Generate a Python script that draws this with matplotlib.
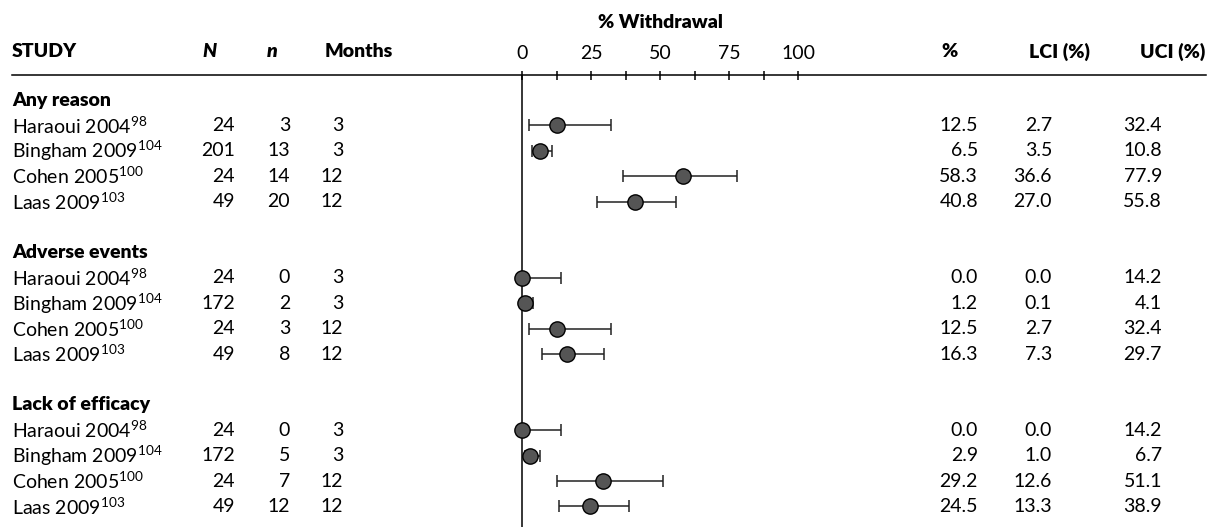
import numpy as np
import matplotlib
matplotlib.use("Agg")
from matplotlib import pyplot as plt

plt.rcParams['font.family'] = ['Lato', 'DejaVu Sans']

groups = ['Any reason', 'Adverse events', 'Lack of efficacy']
studies = ['Haraoui 2004', 'Bingham 2009', 'Cohen 2005', 'Laas 2009']
refs = ['98', '104', '100', '103']

big_n = [[24, 201, 24, 49], [24, 172, 24, 49], [24, 172, 24, 49]]
small_n = [[3, 13, 14, 20], [0, 2, 3, 8], [0, 5, 7, 12]]
months = [[3, 3, 12, 12], [3, 3, 12, 12], [3, 3, 12, 12]]
pct = [[12.5, 6.5, 58.3, 40.8], [0.0, 1.2, 12.5, 16.3], [0.0, 2.9, 29.2, 24.5]]
lci = [[2.7, 3.5, 36.6, 27.0], [0.0, 0.1, 2.7, 7.3], [0.0, 1.0, 12.6, 13.3]]
uci = [[32.4, 10.8, 77.9, 55.8], [14.2, 4.1, 32.4, 29.7], [14.2, 6.7, 51.1, 38.9]]

ticks = np.arange(0, 101, 12.5)
tick_labels = ['0', '', '25', '', '50', '', '75', '', '100']

W, H = 1215, 527
fig = plt.figure(figsize=(W / 100, H / 100), dpi=100)
ax = fig.add_axes([0, 0, 1, 1])
ax.set_axis_off()

# x: percent scale, 0 -> 522px, 100 -> 798px ; y: row index, row 0 at 100px, 25.4px per row
x0, x100 = 522, 798
scale = (x100 - x0) / 100
ax.set_xlim(-x0 / scale, (W - x0) / scale)
r0, dr = 100, 25.4
ax.set_ylim((H - r0) / dr, -r0 / dr)

fs = 14
bw = 'heavy'
lw = 1.1
ta = ax.get_yaxis_transform()  # x in axes fraction, y in rows


def fx(px):
    return px / W


# header
ax.text(fx(12), -1.9, 'STUDY', transform=ta, ha='left', va='center', fontsize=fs, fontweight=bw)
ax.text(fx(217), -1.9, 'N', transform=ta, ha='right', va='center', fontsize=fs, fontweight=bw, style='italic')
ax.text(fx(278), -1.9, 'n', transform=ta, ha='right', va='center', fontsize=fs, fontweight=bw, style='italic')
ax.text(fx(325), -1.9, 'Months', transform=ta, ha='left', va='center', fontsize=fs, fontweight=bw)
ax.text(fx(958), -1.9, '%', transform=ta, ha='right', va='center', fontsize=fs, fontweight=bw)
ax.text(fx(1090), -1.9, 'LCI (%)', transform=ta, ha='right', va='center', fontsize=fs, fontweight=bw)
ax.text(fx(1205), -1.9, 'UCI (%)', transform=ta, ha='right', va='center', fontsize=fs, fontweight=bw)
ax.text(50, -3.07, '% Withdrawal', ha='center', va='center', fontsize=fs, fontweight=bw)

# axis line, ticks, reference line
ax.axhline(-1, xmin=fx(12), xmax=fx(1206), color='black', lw=lw)
ax.vlines(ticks, -1.16, -0.8, color='black', lw=lw)
for t, lab in zip(ticks, tick_labels):
    ax.text(t, -1.85, lab, ha='center', va='center', fontsize=fs)
ax.vlines(0, -1, (H - r0) / dr, color='black', lw=lw)

for g, name in enumerate(groups):
    top = g * 6
    ax.text(fx(12), top, name, transform=ta, ha='left', va='center', fontsize=fs, fontweight=bw)
    rows = top + 1 + np.arange(len(studies))
    for i, y in enumerate(rows):
        ax.text(fx(12), y, studies[i] + '$^{\\mathregular{' + refs[i] + '}}$', transform=ta,
                ha='left', va='center', fontsize=fs)
        ax.text(fx(235), y, str(big_n[g][i]), transform=ta, ha='right', va='center', fontsize=fs)
        ax.text(fx(290), y, str(small_n[g][i]), transform=ta, ha='right', va='center', fontsize=fs)
        ax.text(fx(343), y, str(months[g][i]), transform=ta, ha='right', va='center', fontsize=fs)
        ax.text(fx(978), y, '%.1f' % pct[g][i], transform=ta, ha='right', va='center', fontsize=fs)
        ax.text(fx(1052), y, '%.1f' % lci[g][i], transform=ta, ha='right', va='center', fontsize=fs)
        ax.text(fx(1162), y, '%.1f' % uci[g][i], transform=ta, ha='right', va='center', fontsize=fs)
    p = np.array(pct[g])
    lo = p - np.array(lci[g])
    hi = np.array(uci[g]) - p
    ax.errorbar(p, rows, xerr=[lo, hi], fmt='none', ecolor='#222222', elinewidth=lw,
                capsize=4.5, capthick=lw, zorder=2)
    ax.plot(p, rows, 'o', ms=11, mfc='#555555', mec='black', mew=1, zorder=3)

fig.savefig('out.png', dpi=100)
